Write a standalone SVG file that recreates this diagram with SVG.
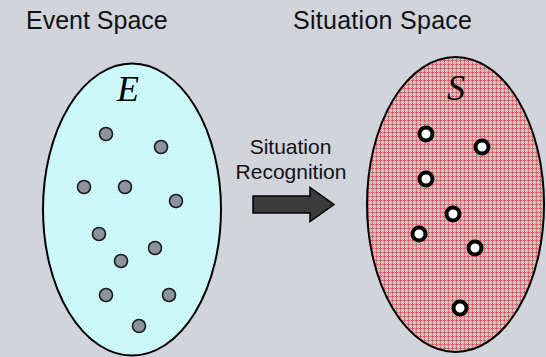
<svg xmlns="http://www.w3.org/2000/svg" width="546" height="357" viewBox="0 0 546 357">
  <defs>
    <!-- fine dotted texture for the event set -->
    <pattern id="dotFill" width="4" height="4" patternUnits="userSpaceOnUse">
      <rect width="4" height="4" fill="#cdfbfb"/>
      <rect x="0" y="0" width="1" height="1" fill="#b9e9ee"/>
      <rect x="2" y="2" width="1" height="1" fill="#b9e9ee"/>
    </pattern>
    <!-- red plaid texture for the situation set -->
    <pattern id="plaidFill" width="4" height="4" patternUnits="userSpaceOnUse">
      <rect width="4" height="4" fill="#ebbfc2"/>
      <rect x="0" y="0" width="1" height="4" fill="#dc5a66"/>
      <rect x="0" y="0" width="4" height="1" fill="#dc5a66"/>
      <rect x="2" y="0" width="1" height="4" fill="#e3a0a6"/>
      <rect x="0" y="2" width="4" height="1" fill="#e3a0a6"/>
      <rect x="2" y="2" width="1" height="1" fill="#f4dadc"/>
    </pattern>
    <style>
      .title { font-family: "Liberation Sans", Arial, sans-serif; font-size: 25px; fill: #111; }
      .label { font-family: "Liberation Sans", Arial, sans-serif; font-size: 21px; fill: #111; text-anchor: middle; }
      .setname { font-family: "Liberation Serif", "Times New Roman", serif; font-style: italic; font-size: 36px; fill: #000; text-anchor: middle; }
      .set { stroke: #000; stroke-width: 2; }
      .event { fill: #8c939c; stroke: #1a1a1a; stroke-width: 1.6; }
      .situation { fill: #fff; stroke: #000; stroke-width: 4; }
    </style>
  </defs>

  <rect width="546" height="357" fill="#d1d4db"/>

  <text class="title" x="26" y="29">Event Space</text>
  <text class="title" x="293" y="29" textLength="179">Situation Space</text>

  <g id="event-space">
    <ellipse class="set" cx="132" cy="209.5" rx="89" ry="146" fill="url(#dotFill)"/>
    <text class="setname" x="128" y="101">E</text>
    <circle class="event" cx="106" cy="134" r="6.5"/>
    <circle class="event" cx="161" cy="147" r="6.5"/>
    <circle class="event" cx="84" cy="187" r="6.5"/>
    <circle class="event" cx="125" cy="187" r="6.5"/>
    <circle class="event" cx="176" cy="201" r="6.5"/>
    <circle class="event" cx="99" cy="234" r="6.5"/>
    <circle class="event" cx="155" cy="248" r="6.5"/>
    <circle class="event" cx="121" cy="261" r="6.5"/>
    <circle class="event" cx="106" cy="295" r="6.5"/>
    <circle class="event" cx="169" cy="295" r="6.5"/>
    <circle class="event" cx="139" cy="326" r="6.5"/>
  </g>

  <g id="situation-space">
    <ellipse class="set" cx="455.5" cy="204.5" rx="88.5" ry="147.5" fill="url(#plaidFill)"/>
    <text class="setname" x="456" y="100">S</text>
    <circle class="situation" cx="426" cy="134" r="6.5"/>
    <circle class="situation" cx="482" cy="147" r="6.5"/>
    <circle class="situation" cx="426" cy="179" r="6.5"/>
    <circle class="situation" cx="453" cy="214" r="6.5"/>
    <circle class="situation" cx="419" cy="234" r="6.5"/>
    <circle class="situation" cx="475" cy="248" r="6.5"/>
    <circle class="situation" cx="460" cy="308" r="6.5"/>
  </g>

  <g id="connectors">
    <path d="M253,196 H310 V187.5 L334,204.5 L310,221.5 V213 H253 Z" fill="#3b3b3b" stroke="#000" stroke-width="1.5" stroke-linejoin="miter"/>
    <text class="label" x="290.5" y="154">Situation</text>
    <text class="label" x="291" y="179">Recognition</text>
  </g>
</svg>
